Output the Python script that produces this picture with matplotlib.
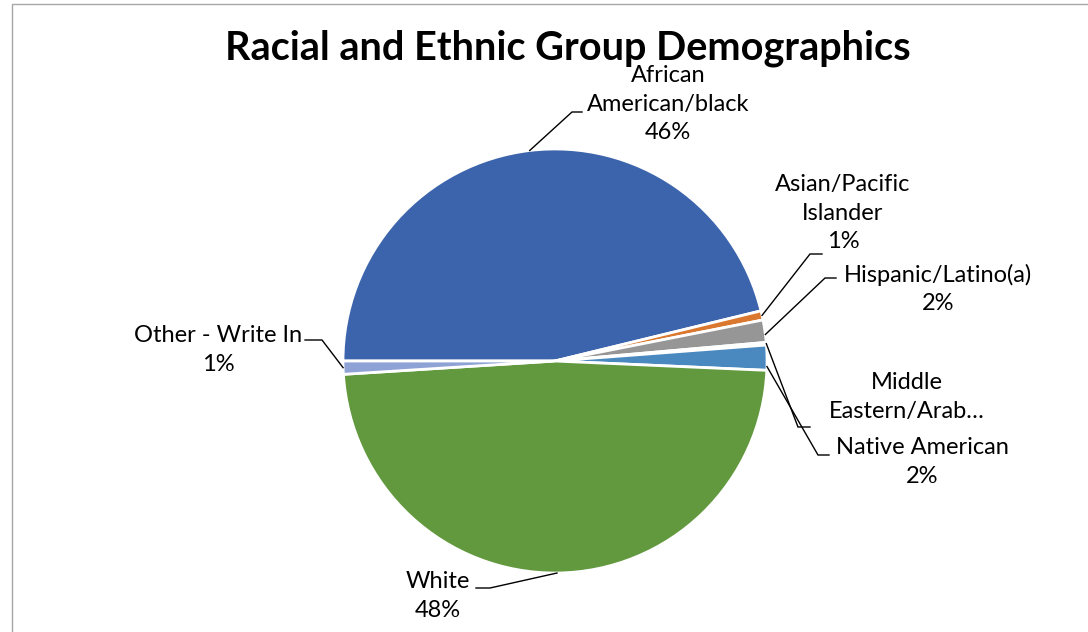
import numpy as np
import matplotlib
matplotlib.use("Agg")
import matplotlib.pyplot as plt
from matplotlib.patches import Rectangle

plt.rcParams['font.family'] = ['Lato', 'DejaVu Sans']

# Survey shares by racial / ethnic group (percent)
groups = ["African American/black", "Asian/Pacific Islander", "Hispanic/Latino(a)",
          "Middle Eastern/Arab American", "Native American", "White", "Other - Write In"]
shares = [46.2, 0.7, 1.7, 0.2, 1.9, 48.3, 1.0]
colors = ["#3C64AC", "#D9782E", "#969696", "#8BA8D8", "#4A89C0", "#62993E", "#8FA2D6"]

# Label texts as shown beside the pie
label_texts = ["African\nAmerican/black\n46%", "Asian/Pacific\nIslander\n1%",
               "Hispanic/Latino(a)\n2%", "Middle\nEastern/Arab…",
               "Native American\n2%", "White\n48%", "Other - Write In\n1%"]

W, H = 1088, 632
fig = plt.figure(figsize=(W / 100, H / 100), dpi=100)
ax = fig.add_axes([0, 0, 1, 1])

# chart-area border (top and left edges visible)
fig.patches.append(Rectangle((12 / W, -0.1), 1.2, (H - 4) / H + 0.1, transform=fig.transFigure,
                             fill=False, edgecolor="#A6A6A6", linewidth=1.0))

cx, cy, r = 555, H - 361, 212
wedges, _ = ax.pie(shares, colors=colors, startangle=180, counterclock=False,
                   center=(cx, cy), radius=r, explode=[0.03] * len(shares),
                   wedgeprops=dict(edgecolor="white", linewidth=2.0), frame=True)
ax.set_xlim(0, W)
ax.set_ylim(0, H)
ax.set_aspect('equal')
ax.axis('off')

fig.text(568 / W, 1 - 48 / H, "Racial and Ethnic Group Demographics", ha="center", va="center",
         fontsize=28.5, fontweight="bold", color="black")

# label layout: text centre (px), elbow point (px), end of horizontal stub (px)
label_pos = [(668, 104), (843, 213), (938, 289), (907, 397), (922, 462), (438, 596), (218, 350)]
elbows = [(572, 112), (810, 254), (825, 278), (798, 427), (818, 455), (490, 588), (322, 340)]
stubs = [(582, 112), (822, 254), (836, 278), (810, 427), (829, 455), (476, 588), (305, 340)]
# anchor angles on the rim for the small slices sit near their shared edges
anchor_frac = [0.5, 0.5, 0.35, 0.5, 0.15, 0.5, 0.5]

for w, txt, (tx, ty), (ex, ey), (sx, sy), fr in zip(wedges, label_texts, label_pos, elbows, stubs, anchor_frac):
    th1, th2 = w.theta1, w.theta2
    ang = np.deg2rad(th1 + (th2 - th1) * fr)
    wc = w.center
    px = wc[0] + w.r * np.cos(ang)
    py = wc[1] + w.r * np.sin(ang)
    ax.plot([px, ex, sx], [py, H - ey, H - sy], color="black", linewidth=1.0,
            solid_joinstyle="miter", zorder=3)
    ax.text(tx, H - ty, txt, ha="center", va="center", fontsize=17, linespacing=1.42,
            color="black")

fig.savefig("out.png", dpi=100, facecolor="white")
